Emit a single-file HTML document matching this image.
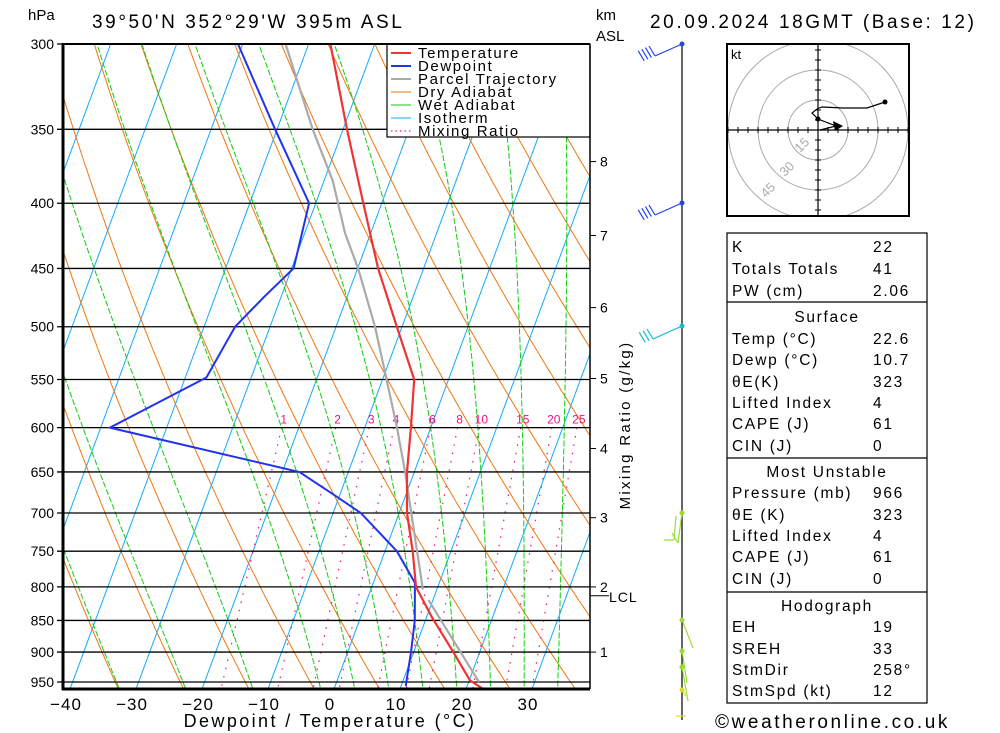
<!DOCTYPE html>
<html><head><meta charset="utf-8"><style>
html,body{margin:0;padding:0;background:#fff;}
svg{display:block;font-family:"Liberation Sans","DejaVu Sans",sans-serif;}
</style></head><body>
<svg id="chart" width="1000" height="733" viewBox="0 0 1000 733" xmlns="http://www.w3.org/2000/svg">
<defs><clipPath id="plotclip"><rect x="63" y="44" width="527" height="645"/></clipPath>
<clipPath id="hodoclip"><rect x="727" y="44" width="182" height="172"/></clipPath></defs>
<rect x="0" y="0" width="1000" height="733" fill="#fff"/>
<g id="bg" clip-path="url(#plotclip)"></g>
<g id="grid"></g>
<g id="series" clip-path="url(#plotclip)"></g>
<g id="legend">
 <rect x="387" y="44" width="203" height="93" fill="#fff" stroke="#000" stroke-width="1.2"/>
 <line x1="391" y1="53" x2="411" y2="53" stroke="#ee3333" stroke-width="2"/>
 <text x="418" y="58" font-size="15" letter-spacing="1.6">Temperature</text>
 <line x1="391" y1="66" x2="411" y2="66" stroke="#2233ee" stroke-width="2"/>
 <text x="418" y="71" font-size="15" letter-spacing="1.6">Dewpoint</text>
 <line x1="391" y1="79" x2="411" y2="79" stroke="#aaaaaa" stroke-width="2"/>
 <text x="418" y="84" font-size="15" letter-spacing="1.6">Parcel Trajectory</text>
 <line x1="391" y1="92" x2="411" y2="92" stroke="#ee7711" stroke-width="1"/>
 <text x="418" y="97" font-size="15" letter-spacing="1.6">Dry Adiabat</text>
 <line x1="391" y1="105" x2="411" y2="105" stroke="#11cc11" stroke-width="1"/>
 <text x="418" y="110" font-size="15" letter-spacing="1.6">Wet Adiabat</text>
 <line x1="391" y1="118" x2="411" y2="118" stroke="#11aaff" stroke-width="1"/>
 <text x="418" y="123" font-size="15" letter-spacing="1.6">Isotherm</text>
 <line x1="391" y1="131" x2="411" y2="131" stroke="#ee1188" stroke-width="1.2" stroke-dasharray="1.5 3"/>
 <text x="418" y="136" font-size="15" letter-spacing="1.6">Mixing Ratio</text>
</g>
<g id="axes">
 <line x1="63" y1="44" x2="590" y2="44" stroke="#000" stroke-width="2"/>
 <line x1="63" y1="43" x2="63" y2="690" stroke="#000" stroke-width="3"/>
 <line x1="62" y1="689" x2="590" y2="689" stroke="#000" stroke-width="3"/>
 <line x1="590" y1="44" x2="590" y2="689" stroke="#000" stroke-width="1.5"/>
</g>
<text x="28" y="20" font-size="15">hPa</text>
<text x="92" y="28" font-size="19" letter-spacing="2.6">39°50'N  352°29'W  395m  ASL</text>
<text x="596" y="20" font-size="15">km</text>
<text x="596" y="41" font-size="15">ASL</text>
<text x="650" y="28" font-size="19" letter-spacing="2.6">20.09.2024  18GMT  (Base: 12)</text>
<text x="330" y="727" font-size="18" text-anchor="middle" letter-spacing="2.4">Dewpoint / Temperature (°C)</text>
<text x="715" y="728" font-size="19" letter-spacing="2.6">©weatheronline.co.uk</text>
<text transform="translate(630,425) rotate(-90)" font-size="15" text-anchor="middle" letter-spacing="2.3">Mixing Ratio (g/kg)</text>
<g id="kmaxis"></g>
<g id="wind">
 <line x1="682" y1="44" x2="682" y2="720" stroke="#000" stroke-width="1.2"/>
</g>
<g id="hodo">
 <rect x="727" y="44" width="182" height="172" fill="#fff" stroke="none"/>
 <g id="hodoin" clip-path="url(#hodoclip)"></g>
 <rect x="727" y="44" width="182" height="172" fill="none" stroke="#000" stroke-width="2"/>
 <text x="731" y="59" font-size="13">kt</text>
</g>
<g id="table"></g>
</svg>
<script>
// ---- data ----
var tempP = [300,350,400,450,500,550,600,650,700,750,800,845,900,947,962];
var tempT = [-36.7,-29.4,-22.8,-16.9,-10.8,-5.2,-3.0,-1.1,1.2,4.2,6.7,10.8,16.0,20.1,22.6];
var dewP = [300,350,400,450,474,500,548,600,650,680,700,750,794,850,900,957];
var dewT = [-50.7,-40.3,-31.0,-29.7,-32.6,-35.3,-36.8,-48.6,-17.4,-10.3,-5.8,1.8,6.3,8.4,9.6,10.7];
var parcelUpP = [300,350,384,422,451,500,541,600,650,804];
var parcelUpT = [-43.5,-34.6,-28.7,-23.9,-19.8,-14.1,-10.2,-5.1,-1.4,7.9];
var parcelLoP = [819,940,950];
var parcelLoT = [9.3,20.7,21.6];
var pressureTicks = [300,350,400,450,500,550,600,650,700,750,800,850,900,950];
var tempTicks = [-40,-30,-20,-10,0,10,20,30];
var mixRatios = [1,2,3,4,6,8,10,15,20,25];
var kmTicks = [1,2,3,4,5,6,7,8];
var kmPressure = [900,800,706,623,549,483,424,371];
var lclPressure = 813;
var hodoU = [1,9,0,-3,-0.5,2,12.5,24.5,33.5];
var hodoV = [0,2,5.5,8.5,10.5,11.5,11,11,14];
var tableLabels = ["K","Totals Totals","PW (cm)","@Surface","Temp (°C)","Dewp (°C)","θE(K)","Lifted Index","CAPE (J)","CIN (J)","@Most Unstable","Pressure (mb)","θE (K)","Lifted Index","CAPE (J)","CIN (J)","@Hodograph","EH","SREH","StmDir","StmSpd (kt)"];
var tableValues = ["22","41","2.06","","22.6","10.7","323","4","61","0","","966","323","4","61","0","","19","33","258°","12"];

// ---- scales ----
function yOf(p){ return 44 + 553.5*Math.log(p/300); }
function xOf(T,p){ return 334 + 6.6*T + 0.37*(689 - yOf(p)); }
var NS="http://www.w3.org/2000/svg";
function mk(tag, attrs, parent){ var e=document.createElementNS(NS,tag); for(var k in attrs) e.setAttribute(k,attrs[k]); parent.appendChild(e); return e; }
function ptsStr(Ps,Ts){ var s=[]; for(var i=0;i<Ps.length;i++) s.push(xOf(Ts[i],Ps[i]).toFixed(1)+","+yOf(Ps[i]).toFixed(1)); return s.join(" "); }
var bg=document.getElementById('bg');
var pl;
for(var t=-120;t<=40;t+=10){
  pl=mk('line',{x1:xOf(t,965),y1:yOf(965),x2:xOf(t,300),y2:yOf(300),stroke:'#11aaff','stroke-width':1},bg);
  
  
}
for(var th=-30;th<=200;th+=10){
  var pp=[],tt=[];
  for(var p=965;p>=300;p-=5){ pp.push(p); tt.push((th+273.15)*Math.pow(p/1000,0.286)-273.15); }
  pl=mk('polyline',{points:ptsStr(pp,tt),fill:'none',stroke:'#ee7711','stroke-width':1},bg);
  
  
}
function es(T){ return 6.112*Math.exp(17.67*T/(T+243.5)); }
var wetList=[-40,-30,-20,-10,0,5,10,15,20,25,30,35];
for(var w=0;w<wetList.length;w++){
  var T=wetList[w], p=1000, pp=[], tt=[];
  while(p>=300){
    pp.push(p); tt.push(T);
    var Tk=T+273.15, rs=0.622*es(T)/(p-es(T));
    var num=287*Tk+2.5e6*rs, den=1004+2.5e6*2.5e6*rs*0.622/(287*Tk*Tk);
    var dp=-5; T+= (num/den)*dp/p; p+=dp;
  }
  pl=mk('polyline',{points:ptsStr(pp,tt),fill:'none',stroke:'#11cc11','stroke-width':1,'stroke-dasharray':'6 2'},bg);
  
  
}
function tdFromW(wv,p){ var e=wv*p/(622+wv); var l=Math.log(e/6.112); return 243.5*l/(17.67-l) + 0.4 + 0.075*wv; }
for(var m=0;m<mixRatios.length;m++){
  var wv=mixRatios[m];
  pl=mk('line',{x1:xOf(tdFromW(wv,600),600),y1:yOf(600),x2:xOf(tdFromW(wv,965),965),y2:yOf(965),stroke:'#ee1188','stroke-width':1.2,'stroke-dasharray':'1.5 7'},bg);
  
  
  var lb=mk('text',{x:xOf(tdFromW(wv,600),600)+2,y:yOf(600)-4,'font-size':12,fill:'#ee1188','text-anchor':'middle'},bg);
  lb.textContent=String(wv);
  
  
}
var grid=document.getElementById('grid');
for(var i=0;i<pressureTicks.length;i++){
  var y=yOf(pressureTicks[i]);
  pl=mk('line',{x1:57,y1:y,x2:590,y2:y,stroke:'#000','stroke-width':1.3},grid);
  
  
  var tx=mk('text',{x:54,y:y+5,'font-size':14,'text-anchor':'end'},grid);
  tx.textContent=String(pressureTicks[i]);
  
  
}
for(var i=0;i<tempTicks.length;i++){
  var tx=mk('text',{x:330+6.6*tempTicks[i],y:710,'font-size':17,'text-anchor':'middle','letter-spacing':1},grid);
  tx.textContent=(tempTicks[i]<0?'\u2212':'')+Math.abs(tempTicks[i]);
  
  
}
var ser=document.getElementById('series');
pl=mk('polyline',{points:ptsStr(parcelUpP,parcelUpT),fill:'none',stroke:'#aaaaaa','stroke-width':2.2},ser);


pl=mk('polyline',{points:ptsStr(parcelLoP,parcelLoT),fill:'none',stroke:'#aaaaaa','stroke-width':2.2},ser);


pl=mk('polyline',{points:ptsStr(dewP,dewT),fill:'none',stroke:'#2233ee','stroke-width':2},ser);


pl=mk('polyline',{points:ptsStr(tempP,tempT),fill:'none',stroke:'#ee3333','stroke-width':2.2},ser);


var km=document.getElementById('kmaxis');
for(var i=0;i<kmTicks.length;i++){
  var y=yOf(kmPressure[i]);
  pl=mk('line',{x1:590,y1:y,x2:596,y2:y,stroke:'#000','stroke-width':1},km);
  
  
  var tx=mk('text',{x:600,y:y+5,'font-size':14},km);
  tx.textContent=String(kmTicks[i]);
  
  
}
var ly=yOf(lclPressure);
pl=mk('line',{x1:590,y1:ly,x2:609,y2:ly,stroke:'#000','stroke-width':1},km);


var tx=mk('text',{x:609,y:ly+6,'font-size':14,'letter-spacing':1},km);
tx.textContent='LCL';


var wind=document.getElementById('wind');
function barb(y,dx,dy,n,col){
  var g=mk('g',{stroke:col,'stroke-width':1.2,fill:'none'},wind);
  
  
  mk('line',{x1:682,y1:y,x2:682+dx,y2:y+dy},g);
  for(var k=0;k<n;k++){ var fx=682+dx+k*4*dx/30, fy=y+dy+k*4*dy/30; mk('line',{x1:fx,y1:fy,x2:fx-6,y2:fy-10},g); }
  mk('circle',{cx:682,cy:y,r:2.5,fill:col,stroke:'none'},g);
}
barb(44,-27,12,4,'#2244ee'); barb(203,-27,12,4,'#2244ee'); barb(326,-29,13,3,'#11bbcc');
barb(513,-4,30,1,'#99dd33'); barb(620,11,28,0,'#99dd33'); barb(651,5,32,0,'#99dd33');
barb(667,6,34,0,'#99dd33'); barb(690,4,6,0,'#dddd22');
mk('line',{x1:676,y1:516,x2:674,y2:540,stroke:'#99dd33','stroke-width':1.2},wind);
mk('line',{x1:674,y1:540,x2:664,y2:540,stroke:'#99dd33','stroke-width':1.2},wind);
mk('line',{x1:676,y1:716,x2:686,y2:716,stroke:'#dddd22','stroke-width':1.2},wind);
var hodo=document.getElementById('hodoin');
var cx=818, cy=130;
var rings=[15,30,45];
for(var i=0;i<rings.length;i++){
  pl=mk('circle',{cx:cx,cy:cy,r:rings[i]*2,fill:'none',stroke:'#aaa','stroke-width':1},hodo);
  
  
}
mk('line',{x1:727,y1:cy,x2:909,y2:cy,stroke:'#000','stroke-width':1.2},hodo);
mk('line',{x1:cx,y1:44,x2:cx,y2:216,stroke:'#000','stroke-width':1.2},hodo);
for(var k=-9;k<=9;k++){ if(k==0) continue;
  mk('line',{x1:cx+k*10,y1:cy-3,x2:cx+k*10,y2:cy+3,stroke:'#000','stroke-width':1},hodo);
  mk('line',{x1:cx-3,y1:cy+k*10,x2:cx+3,y2:cy+k*10,stroke:'#000','stroke-width':1},hodo); }
var rl=[['15',cx-13,cy+18],['30',cx-28,cy+42],['45',cx-47,cy+63]];
for(var i=0;i<rl.length;i++){ var t2=mk('text',{x:rl[i][1],y:rl[i][2],'font-size':13,fill:'#aaa',transform:'rotate(-45 '+rl[i][1]+' '+rl[i][2]+')','text-anchor':'middle'},hodo); t2.textContent=rl[i][0];
  
   }
var hp=[]; for(var i=0;i<hodoU.length;i++) hp.push((cx+hodoU[i]*2).toFixed(1)+','+(cy-hodoV[i]*2).toFixed(1));
pl=mk('polyline',{points:hp.join(' '),fill:'none',stroke:'#000','stroke-width':1.2},hodo);


mk('circle',{cx:cx+hodoU[hodoU.length-1]*2,cy:cy-hodoV[hodoV.length-1]*2,r:2.5,fill:'#000'},hodo);
mk('circle',{cx:cx,cy:cy-11,r:2.5,fill:'#000'},hodo);
pl=mk('polygon',{points:(cx+15)+','+(cy-9)+' '+(cx+25)+','+(cy-4)+' '+(cx+17)+','+(cy+1),fill:'#000'},hodo);


var tb=document.getElementById('table');
var rowY=[246,268,290,316,338,359,381,402,423,445,471,492,514,535,556,578,605,626,648,669,690];
mk('rect',{x:727,y:233,width:200,height:470,fill:'none',stroke:'#000','stroke-width':1.2},tb);
var divs=[302,458,592];
for(var i=0;i<divs.length;i++) mk('line',{x1:727,y1:divs[i],x2:927,y2:divs[i],stroke:'#000','stroke-width':1.2},tb);
for(var i=0;i<tableLabels.length;i++){
  var lab=tableLabels[i], hdr=lab.charAt(0)=='@';
  var t3=mk('text',{x:hdr?827:732,y:rowY[i]+6,'font-size':15.5,'letter-spacing':1.7,'text-anchor':hdr?'middle':'start'},tb);
  t3.textContent=hdr?lab.substring(1):lab;
  
  
  if(tableValues[i]!==''){
    var t4=mk('text',{x:873,y:rowY[i]+6,'font-size':15.5,'letter-spacing':1.7},tb);
    t4.textContent=tableValues[i];
    
    
  }
}
</script>
</body></html>
